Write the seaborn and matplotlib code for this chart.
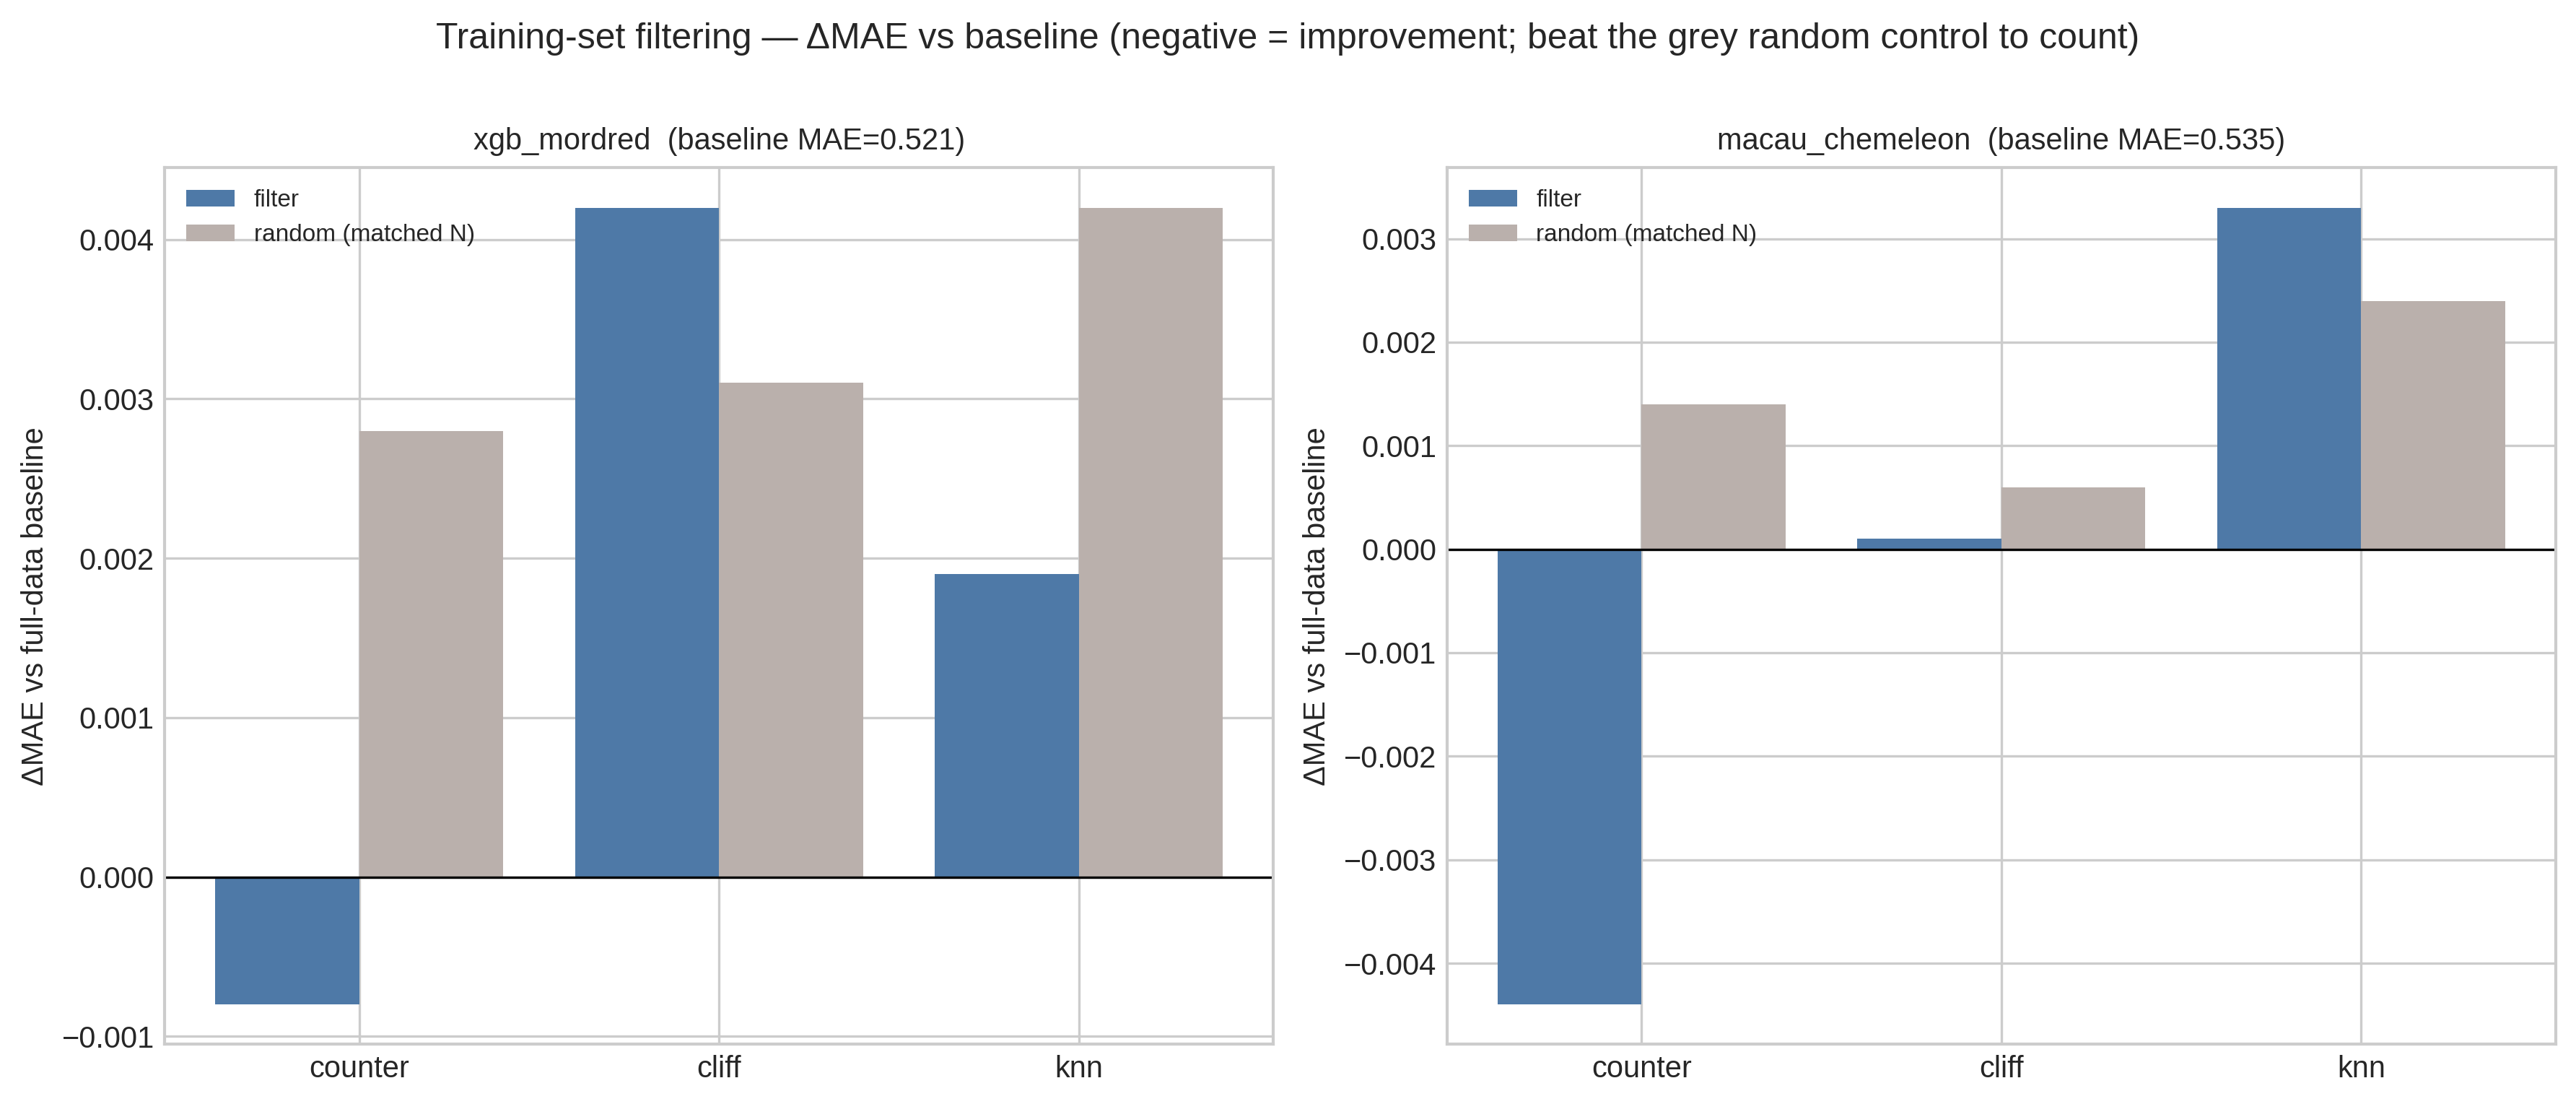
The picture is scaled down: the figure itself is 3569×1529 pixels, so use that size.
import matplotlib
matplotlib.use("Agg")
import matplotlib.pyplot as plt
import pandas as pd
import seaborn as sns

# data
methods = ["counter", "cliff", "knn"]
kinds = ["filter", "random (matched N)"]
models = ["xgb_mordred", "macau_chemeleon"]
baseline_mae = [0.521, 0.535]
xgb_filter = [-0.0008, 0.0042, 0.0019]
xgb_random = [0.0028, 0.0031, 0.0042]
macau_filter = [-0.0044, 0.0001, 0.0033]
macau_random = [0.0014, 0.0006, 0.0024]

colors = ["#4e79a7", "#bab0ac"]

series = {
    "xgb_mordred": (xgb_filter, xgb_random),
    "macau_chemeleon": (macau_filter, macau_random),
}
rows = []
for model, (filt, rand) in series.items():
    for m, f, r in zip(methods, filt, rand):
        rows.append({"model": model, "method": m, "kind": kinds[0], "dmae": f})
        rows.append({"model": model, "method": m, "kind": kinds[1], "dmae": r})
df = pd.DataFrame(rows)

plt.style.use("seaborn-v0_8-whitegrid")
plt.rcParams["font.family"] = ["Liberation Sans", "DejaVu Sans"]

fig, axes = plt.subplots(1, 2, figsize=(11.897, 5.097), dpi=300)
fig.subplots_adjust(left=0.064, right=0.992, top=0.848, bottom=0.054, wspace=0.157)

for ax, model, base in zip(axes, models, baseline_mae):
    sub = df[df.model == model]
    sns.barplot(data=sub, x="method", y="dmae", hue="kind", order=methods,
                hue_order=kinds, palette=colors, saturation=1, width=0.8,
                errorbar=None, ax=ax, edgecolor="none")
    ax.axhline(0, color="black", lw=0.8)
    ax.set_xlim(-0.54, len(methods) - 1 + 0.54)
    ax.grid(True, axis="both")
    ax.set_axisbelow(True)
    ax.set_xlabel("")
    ax.set_ylabel("ΔMAE vs full-data baseline", fontsize=10)
    ax.set_title(f"{model}  (baseline MAE={base:.3f})", fontsize=10)
    ax.tick_params(labelsize=10)
    ax.legend(loc="upper left", fontsize=8, frameon=False, title=None)

fig.suptitle("Training-set filtering — ΔMAE vs baseline (negative = improvement; "
             "beat the grey random control to count)", fontsize=12)
fig.savefig("out.png", dpi=300)
